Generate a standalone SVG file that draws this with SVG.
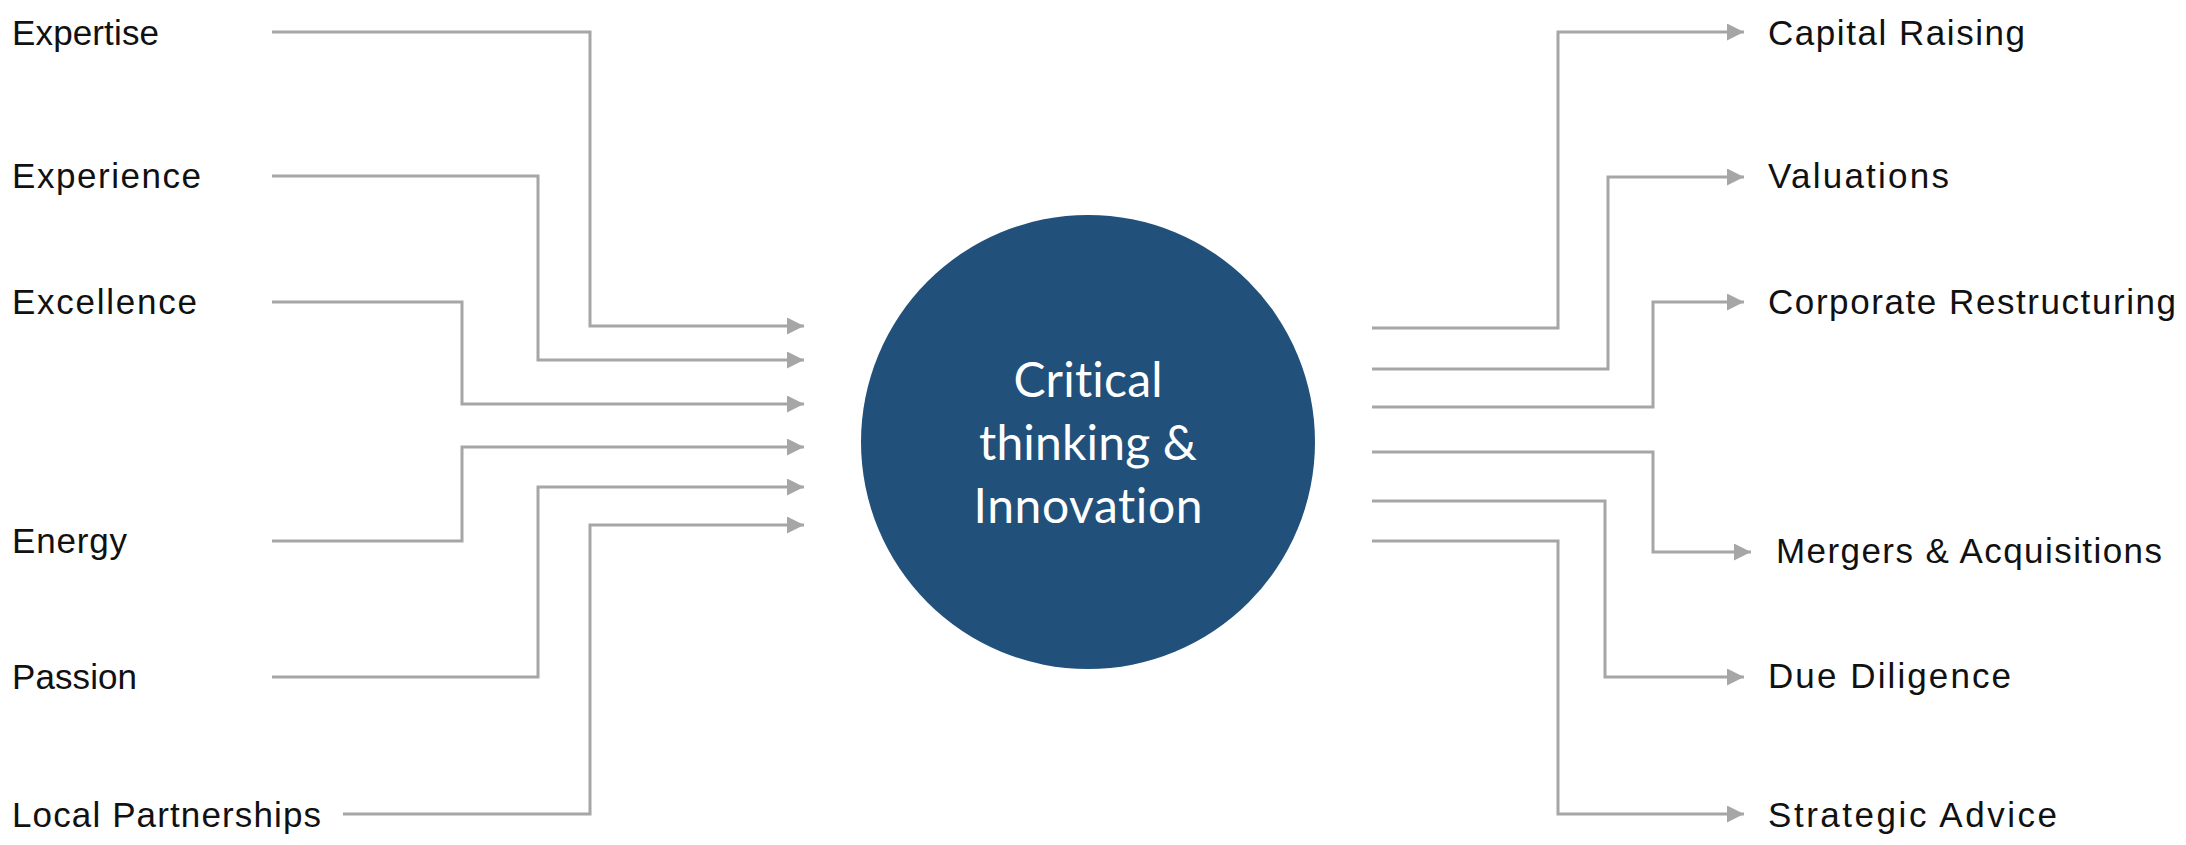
<svg xmlns="http://www.w3.org/2000/svg" width="2186" height="845" viewBox="0 0 2186 845">
<style>
.lbl{font-family:"Liberation Sans",Arial,sans-serif;font-size:35px;fill:#111111}
.ctr{font-family:Lato,"Open Sans",sans-serif;font-size:48px;fill:#ffffff;text-anchor:middle;font-variant-ligatures:none}
.conn{fill:none;stroke:#a6a6a6;stroke-width:3;marker-end:url(#arr)}
</style>
<defs>
<marker id="arr" markerUnits="userSpaceOnUse" markerWidth="18" markerHeight="18" refX="17" refY="8.5" orient="auto">
<path d="M0,0 L17,8.5 L0,17 z" fill="#a6a6a6"/>
</marker>
</defs>
<rect width="2186" height="845" fill="#ffffff"/>
<g id="connectors">
<path class="conn" d="M272,32 H590 V326 H804"/>
<path class="conn" d="M272,176 H538 V360 H804"/>
<path class="conn" d="M272,302 H462 V404 H804"/>
<path class="conn" d="M272,541 H462 V447 H804"/>
<path class="conn" d="M272,677 H538 V487 H804"/>
<path class="conn" d="M343,814 H590 V525 H804"/>
<path class="conn" d="M1372,328 H1558 V32 H1744"/>
<path class="conn" d="M1372,369 H1608 V177 H1744"/>
<path class="conn" d="M1372,407 H1653 V302 H1744"/>
<path class="conn" d="M1372,452 H1653 V552 H1751"/>
<path class="conn" d="M1372,501 H1605 V677 H1744"/>
<path class="conn" d="M1372,541 H1558 V814 H1744"/>
</g>
<g id="center">
<circle cx="1088" cy="442" r="227" fill="#21507b"/>
<text class="ctr" x="1088" y="397" textLength="149">Critical</text>
<text class="ctr" x="1088" y="460" textLength="218">thinking &amp;</text>
<text class="ctr" x="1088" y="523" textLength="229">Innovation</text>
</g>
<g id="in-expertise"><text class="lbl" x="12" y="45" textLength="147">Expertise</text></g>
<g id="in-experience"><text class="lbl" x="12" y="188" textLength="189">Experience</text></g>
<g id="in-excellence"><text class="lbl" x="12" y="314" textLength="185">Excellence</text></g>
<g id="in-energy"><text class="lbl" x="12" y="553" textLength="115">Energy</text></g>
<g id="in-passion"><text class="lbl" x="12" y="689" textLength="125">Passion</text></g>
<g id="in-local"><text class="lbl" x="12" y="827" textLength="309">Local Partnerships</text></g>
<g id="out-capital"><text class="lbl" x="1768" y="45" textLength="257">Capital Raising</text></g>
<g id="out-valuations"><text class="lbl" x="1768" y="188" textLength="181">Valuations</text></g>
<g id="out-corporate"><text class="lbl" x="1768" y="314" textLength="408">Corporate Restructuring</text></g>
<g id="out-mergers"><text class="lbl" x="1776" y="563" textLength="386">Mergers &amp; Acquisitions</text></g>
<g id="out-due"><text class="lbl" x="1768" y="688" textLength="243">Due Diligence</text></g>
<g id="out-strategic"><text class="lbl" x="1768" y="827" textLength="289">Strategic Advice</text></g>
</svg>
